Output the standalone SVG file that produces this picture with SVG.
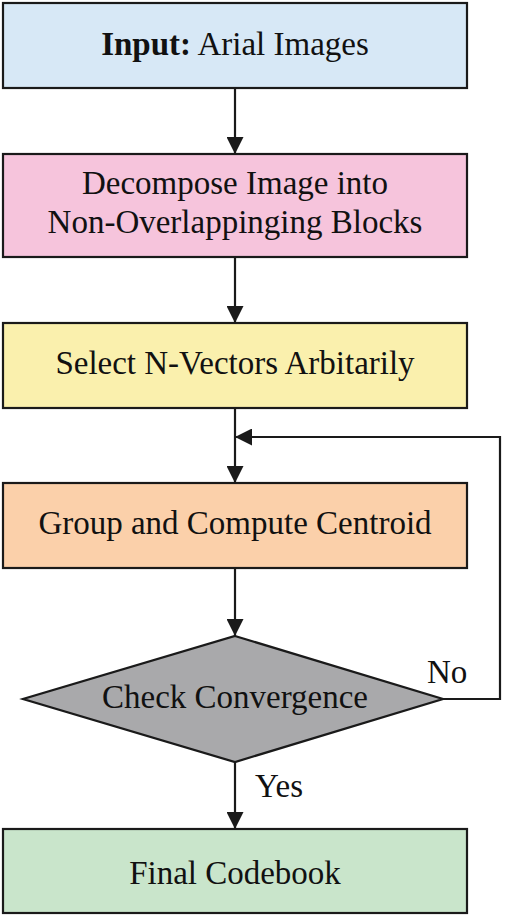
<svg xmlns="http://www.w3.org/2000/svg" width="505" height="918" viewBox="0 0 505 918">
<defs>
<style>
.box{stroke:#1a1a1a;stroke-width:2.2}
.t{font-family:"Liberation Serif","Times New Roman",serif;font-size:33px;fill:#111;text-anchor:middle}
.l{font-family:"Liberation Serif","Times New Roman",serif;font-size:33px;fill:#111}
.c{fill:none;stroke:#1a1a1a;stroke-width:2.2}
</style>
<marker id="ah" viewBox="0 0 10 10" refX="10" refY="5" markerWidth="17" markerHeight="17" markerUnits="userSpaceOnUse" orient="auto">
<path d="M0,0 L10,5 L0,10 Z" fill="#1a1a1a"/>
</marker>
</defs>
<rect width="505" height="918" fill="#fff"/>
<g id="connectors">
<line class="c" x1="235" y1="88" x2="235" y2="154" marker-end="url(#ah)"/>
<line class="c" x1="235" y1="257" x2="235" y2="323" marker-end="url(#ah)"/>
<line class="c" x1="235" y1="408" x2="235" y2="483" marker-end="url(#ah)"/>
<polyline class="c" points="443,699 500,699 500,437 235,437" marker-end="url(#ah)"/>
<line class="c" x1="235" y1="568" x2="235" y2="636" marker-end="url(#ah)"/>
<line class="c" x1="235" y1="762" x2="235" y2="829" marker-end="url(#ah)"/>
<text class="l" x="427" y="683">No</text>
<text class="l" x="255" y="797">Yes</text>
</g>
<g id="input">
<rect class="box" x="3" y="3" width="464" height="85" fill="#d7e8f6"/>
<text class="t" x="235" y="55"><tspan font-weight="bold">Input:</tspan> Arial Images</text>
</g>
<g id="decompose">
<rect class="box" x="3" y="154" width="464" height="103" fill="#f6c4dc"/>
<text class="t" x="235" y="194">Decompose Image into</text>
<text class="t" x="235" y="233">Non-Overlappinging Blocks</text>
</g>
<g id="select">
<rect class="box" x="3" y="323" width="464" height="85" fill="#faf0ad"/>
<text class="t" x="235" y="374">Select N-Vectors Arbitarily</text>
</g>
<g id="group">
<rect class="box" x="3" y="483" width="464" height="85" fill="#fbd0aa"/>
<text class="t" x="235" y="534">Group and Compute Centroid</text>
</g>
<g id="check">
<polygon class="box" points="235,636 443,699 235,762 23,699" fill="#a9a9ab"/>
<text class="t" x="235" y="708">Check Convergence</text>
</g>
<g id="final">
<rect class="box" x="3" y="829" width="464" height="84" fill="#c9e5cb"/>
<text class="t" x="235" y="884">Final Codebook</text>
</g>
</svg>
